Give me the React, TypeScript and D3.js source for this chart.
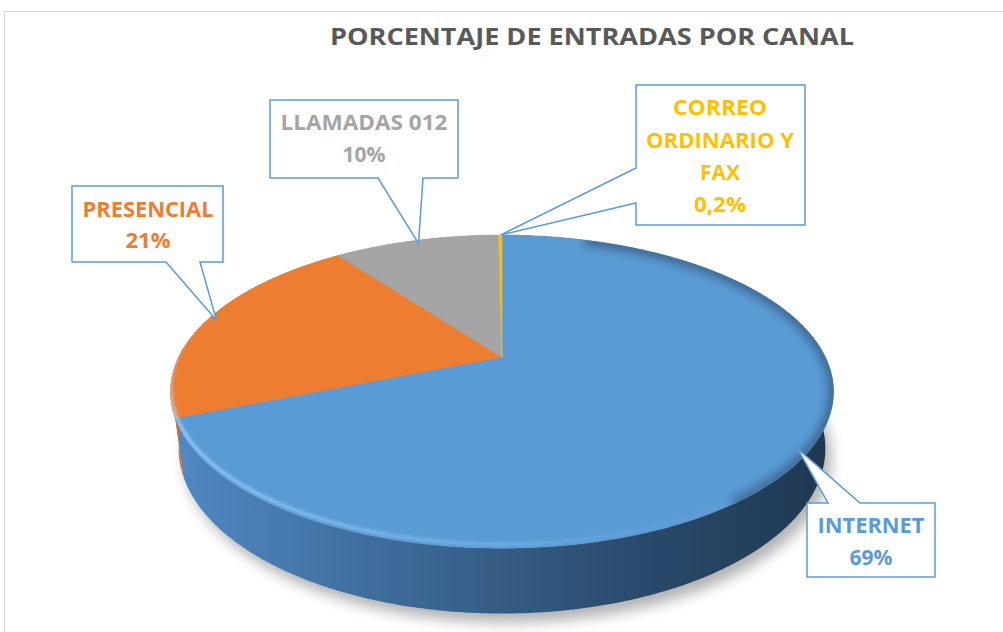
import React from "react";
import * as d3 from "d3";

const CATEGORIES = ["INTERNET", "PRESENCIAL", "LLAMADAS 012", "CORREO ORDINARIO Y FAX"];
const VALUES = [69, 21, 10, 0.2];
const PCT_LABELS = ["69%", "21%", "10%", "0,2%"];
const LABEL_LINES = [["INTERNET"], ["PRESENCIAL"], ["LLAMADAS 012"], ["CORREO", "ORDINARIO Y", "FAX"]];
const TITLE = "PORCENTAJE DE ENTRADAS POR CANAL";

const COLORS = ["#5b9bd5", "#ed7d31", "#a5a5a5", "#ffc000"];
const WALL = [
  ["#5089c4", "#3d6b99", "#2c4d70", "#1f374f"],
  ["#d86a22", "#c45f1c", "#b0551a", "#9c4b16"],
  ["#8c8c8c", "#7a7a7a", "#686868", "#565656"],
  ["#d9a300", "#c49300", "#ad8200", "#967000"],
];

// projection parameters (layout)
const W = 1003, H = 632;
const CX = 502, CY = 357;
const S = 0.47, C = 0.8827, D = 3.99, FX = 1290, FY = 1264, DEPTH = 0.204;

function proj(a: number, Y: number, r = 1): [number, number] {
  const u = r * Math.sin(a), v = -r * Math.cos(a);
  const yc = v * S + Y * C;
  const zc = D - v * C + Y * S;
  return [CX + (FX * u) / zc, CY + (FY * yc) / zc];
}

function sample(a0: number, a1: number, Y: number) {
  const n = Math.max(2, Math.ceil(Math.abs(a1 - a0) / 0.008));
  const pts: [number, number][] = [];
  for (let i = 0; i <= n; i++) pts.push(proj(a0 + ((a1 - a0) * i) / n, Y));
  return pts;
}
const line = d3.line();

type Box = { rect: [number, number, number, number]; side: "top" | "bottom" | "left"; base: [number, number]; cx: number; baselines: number[]; widths: number[] };
const BOXES: Box[] = [
  { rect: [807, 503, 935, 577], side: "top", base: [828, 860], cx: 871, baselines: [533, 565], widths: [107, 43] },
  { rect: [72, 186, 223, 262], side: "bottom", base: [166, 200], cx: 148, baselines: [217, 248], widths: [131, 45] },
  { rect: [270, 100, 458, 178], side: "bottom", base: [378, 423], cx: 364, baselines: [130, 162], widths: [167, 43] },
  { rect: [636, 85, 805, 225], side: "left", base: [168, 203], cx: 720, baselines: [115, 148, 180, 212], widths: [94, 148, 40, 52] },
];

function boxPath(b: Box, tip: [number, number]) {
  const [x0, y0, x1, y1] = b.rect;
  const [p, q] = b.base;
  const [tx, ty] = tip;
  if (b.side === "top") return `M${x0},${y0}H${p}L${tx},${ty}L${q},${y0}H${x1}V${y1}H${x0}Z`;
  if (b.side === "bottom") return `M${x0},${y0}H${x1}V${y1}H${q}L${tx},${ty}L${p},${y1}H${x0}Z`;
  return `M${x0},${y0}H${x1}V${y1}H${x0}V${q}L${tx},${ty}L${x0},${p}Z`;
}

export default function App() {
  const arcs = d3.pie<number>().sort(null).startAngle(0).endAngle(2 * Math.PI)(VALUES);
  const vertex = proj(0, 0, 0);
  const fullTop = sample(0, 2 * Math.PI, 0);
  const fullBottom = sample(0, 2 * Math.PI, DEPTH);
  const xs = fullTop.map((p) => p[0]);
  const xmin = d3.min(xs)!, xmax = d3.max(xs)!;
  const nearArc = sample(Math.PI * 0.75, Math.PI * 1.6, 0);
  const rightArc = sample(Math.PI * 0.1, Math.PI * 0.8, 0);

  return (
    <svg width={W} height={H} style={{ position: "absolute", left: 0, top: 0, background: "#fff" }} fontFamily="'Open Sans', sans-serif">
      <defs>
        <filter id="shadow" x="-20%" y="-20%" width="140%" height="160%">
          <feGaussianBlur stdDeviation="7" />
        </filter>
        <filter id="soft" x="-10%" y="-10%" width="120%" height="130%">
          <feGaussianBlur stdDeviation="1.5" />
        </filter>
        <filter id="soft2" x="-10%" y="-10%" width="120%" height="130%">
          <feGaussianBlur stdDeviation="5" />
        </filter>
        {WALL.map((w, i) => (
          <linearGradient key={i} id={`wall${i}`} gradientUnits="userSpaceOnUse" x1={xmin} x2={xmax} y1={0} y2={0}>
            {w.map((c, j) => (
              <stop key={j} offset={`${(j / (w.length - 1)) * 100}%`} stopColor={c} />
            ))}
          </linearGradient>
        ))}
        <linearGradient id="rim" gradientUnits="userSpaceOnUse" x1={xmin} x2={xmax} y1={0} y2={0}>
          <stop offset="0%" stopColor="#a6d4ff" stopOpacity={0.9} />
          <stop offset="40%" stopColor="#8cc4f5" stopOpacity={0.6} />
          <stop offset="70%" stopColor="#8cc4f5" stopOpacity={0.15} />
          <stop offset="100%" stopColor="#8cc4f5" stopOpacity={0} />
        </linearGradient>
        <clipPath id="topclip">
          <path d={line(fullTop)! + "Z"} />
        </clipPath>
      </defs>

      <rect x={4.5} y={11.5} width={W + 10} height={H + 10} fill="none" stroke="#d9d9d9" strokeWidth={1} />

      <text x={592} y={45} textAnchor="middle" fontSize={23} fontWeight="bold" fill="#595959" textLength={524} lengthAdjust="spacingAndGlyphs">
        {TITLE}
      </text>

      <path d={line(fullBottom)! + "Z"} transform="translate(6,9)" fill="#000" opacity={0.3} filter="url(#shadow)" />

      {arcs.map((a, i) => {
        const top = sample(a.startAngle, a.endAngle, 0);
        const bot = sample(a.startAngle, a.endAngle, DEPTH).reverse();
        return <path key={`w${i}`} d={line([...top, ...bot])! + "Z"} fill={`url(#wall${i})`} />;
      })}

      {arcs.map((a, i) => {
        const pts = [vertex, ...sample(a.startAngle, a.endAngle, 0)];
        return <path key={`t${i}`} d={line(pts)! + "Z"} fill={COLORS[i]} stroke={COLORS[i]} strokeWidth={0.6} />;
      })}

      <g clipPath="url(#topclip)">
        <path d={line(rightArc)!} fill="none" stroke="#1f374f" strokeOpacity={0.55} strokeWidth={10} filter="url(#soft2)" />
        <path d={line(nearArc)!} fill="none" stroke="url(#rim)" strokeWidth={3} filter="url(#soft)" transform="translate(0,-4)" />
      </g>

      {arcs.map((a, i) => {
        const mid = (a.startAngle + a.endAngle) / 2;
        const tip = proj(mid, 0, i === 3 ? 1 : 0.97);
        const b = BOXES[i];
        const lines = [...LABEL_LINES[i], PCT_LABELS[i]];
        return (
          <g key={`c${i}`}>
            <path d={boxPath(b, tip)} fill="#fff" stroke="#5b9bd5" strokeWidth={1.5} />
            {lines.map((t, j) => (
              <text key={j} x={b.cx} y={b.baselines[j]} textAnchor="middle" fontSize={22} fontWeight="bold" fill={COLORS[i]} textLength={b.widths[j]} lengthAdjust="spacingAndGlyphs">
                {t}
              </text>
            ))}
          </g>
        );
      })}
    </svg>
  );
}
